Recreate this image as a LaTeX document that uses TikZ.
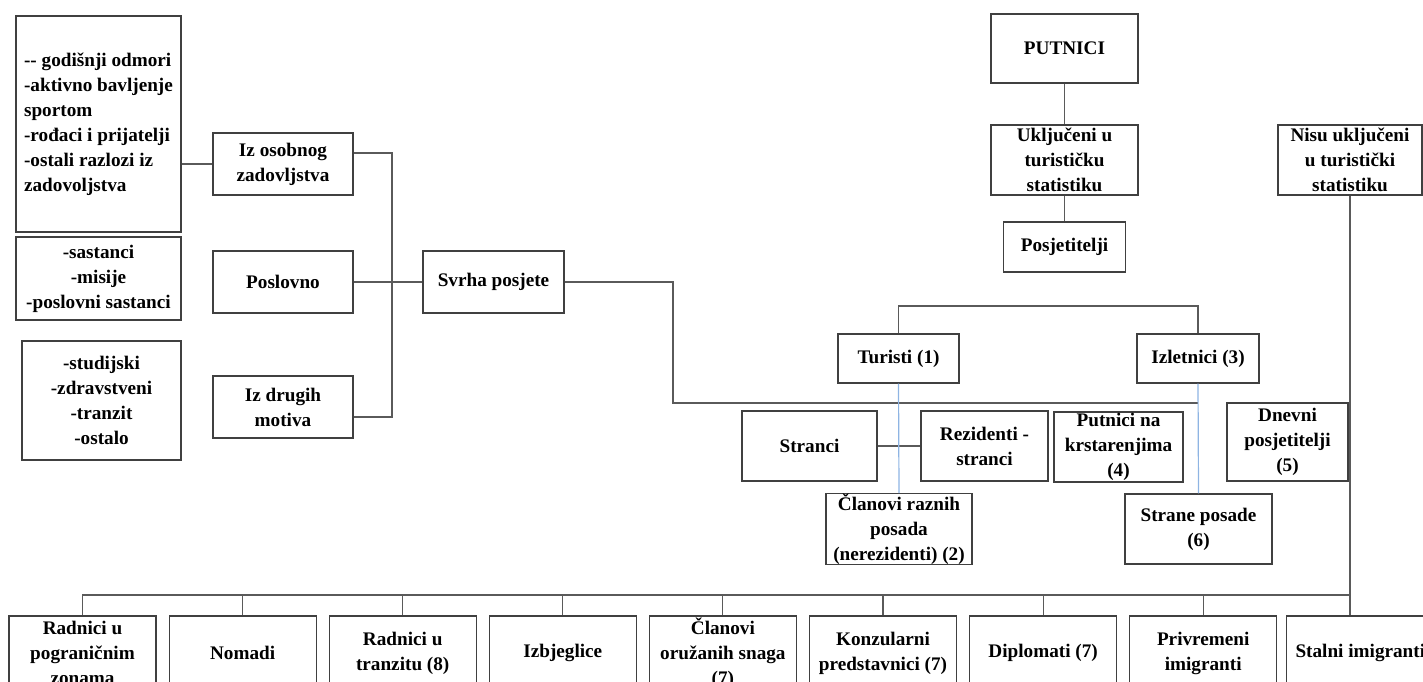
\documentclass[tikz,border=0pt]{standalone}
\usepackage{fontspec}
\setmainfont{Liberation Serif}
\usepackage{tikz}
\usetikzlibrary{positioning}
\definecolor{boxgray}{HTML}{404040}
\definecolor{linegray}{HTML}{5A5A5A}
\definecolor{crewblue}{HTML}{8EB4E3}
\tikzset{
  catbox/.style={
    draw=boxgray,
    fill=white,
    line width=1.1pt,
    inner sep=0pt,
    align=center,
    font=\fontsize{19.2}{25}\selectfont\bfseries
  },
  listbox/.style={
    catbox,
    align=left
  },
  rowbox/.style={
    catbox,
    minimum width=147pt,
    minimum height=74pt
  },
  link/.style={
    draw=linegray,
    line width=1.1pt
  },
  crewlink/.style={
    draw=crewblue,
    line width=1.2pt
  }
}

\begin{document}
\begin{tikzpicture}[x=1pt,y=-1pt,node distance=12pt]
\clip (0,0) rectangle (1423,682);
% purpose of the visit
\node[listbox, minimum width=165pt, minimum height=216pt] (leisurelist) at (98.5,124) {-{}- godišnji odmori\\-aktivno bavljenje\\sportom\\-rođaci i prijatelji\\-ostali razlozi iz\\zadovoljstva};
\node[catbox, minimum width=165pt, minimum height=83pt] (businesslist) at (98.5,278.5) {-sastanci\\-misije\\-poslovni sastanci};
\node[catbox, minimum width=159pt, minimum height=119pt] (otherlist) at (101.5,400.5) {-studijski\\-zdravstveni\\-tranzit\\-ostalo};
\node[catbox, minimum width=140pt, minimum height=62pt] (osobni) at (283,164) {Iz osobnog\\zadovljstva};
\node[catbox, minimum width=140pt, minimum height=62pt] (poslovno) at (283,282) {Poslovno};
\node[catbox, minimum width=140pt, minimum height=62pt] (drugi) at (283,407) {Iz drugih\\motiva};
\node[catbox, minimum width=141pt, minimum height=62pt] (svrha) at (493.5,282) {Svrha posjete};

% travellers
\node[catbox, minimum width=147pt, minimum height=69pt] (putnici) at (1064.5,48.5) {PUTNICI};
\node[catbox, minimum width=147pt, minimum height=70pt] (ukljuceni) at (1064.5,160) {Uključeni u\\turističku\\statistiku};
\node[catbox, minimum width=122pt, minimum height=50pt] (posjet) at (1064.5,247) {Posjetitelji};
\node[catbox, minimum width=144pt, minimum height=70pt] (nisu) at (1350,160) {Nisu uključeni\\u turistički\\statistiku};

% visitors
\node[catbox, minimum width=121pt, minimum height=49pt] (turisti) at (898.5,358.5) {Turisti (1)};
\node[catbox, minimum width=122pt, minimum height=49pt] (izlet) at (1198,358.5) {Izletnici (3)};
\node[catbox, minimum width=135pt, minimum height=70pt] (stranci) at (809.5,446) {Stranci};
\node[catbox, minimum width=127pt, minimum height=70pt] (rezidenti) at (984.5,446) {Rezidenti -\\stranci};
\node[catbox, minimum width=129pt, minimum height=70pt] (krstarenje) at (1118.5,447) {Putnici na\\krstarenjima\\(4)};
\node[catbox, minimum width=121pt, minimum height=78pt] (dnevni) at (1287.5,442) {Dnevni\\posjetitelji\\(5)};
\node[catbox, minimum width=146pt, minimum height=70pt] (clanovi) at (899,529) {Članovi raznih\\posada\\(nerezidenti) (2)};
\node[catbox, minimum width=147pt, minimum height=70pt] (strane) at (1198.5,529) {Strane posade\\(6)};

% not included
\node[rowbox] (pogranicni) at (82.5,653) {Radnici u\\pograničnim\\zonama};
\node[rowbox, right=of pogranicni] (nomadi) {Nomadi};
\node[rowbox, right=of nomadi] (tranzit) {Radnici u\\tranzitu (8)};
\node[rowbox, right=of tranzit] (izbjeglice) {Izbjeglice};
\node[rowbox, right=of izbjeglice] (vojska) {Članovi\\oružanih snaga\\(7)};
\node[rowbox, right=of vojska] (konzuli) {Konzularni\\predstavnici (7)};
\node[rowbox, right=of konzuli] (diplomati) {Diplomati (7)};
\node[rowbox, right=of diplomati] (privremeni) {Privremeni\\imigranti};
\node[rowbox, right=9pt of privremeni] (stalni) {Stalni imigranti};

\coordinate (bt) at (392,153);
\coordinate (bb) at (392,417);
\coordinate (turn) at (673,403);
\coordinate (split) at (1000,306);
\coordinate (bus) at (0,595);

\draw[link] (leisurelist.east |- osobni) -- (osobni.west);
\draw[link] (osobni.east |- bt) -- (bt) -- (bb) -- (drugi.east |- bb);
\draw[link] (poslovno.east) -- (svrha.west);
\draw[link] (svrha.east) -| (turn) -- (turn -| izlet.south);
\draw[link] (putnici) -- (ukljuceni);
\draw[link] (ukljuceni) -- (posjet);
\draw[link] (turisti.north) |- (split) -| (izlet.north);
\draw[link] (stranci) -- (rezidenti);
\draw[crewlink] (turisti.south) -- (clanovi.north);
\draw[crewlink] (izlet.south) -- (strane.north);
\draw[link] (nisu.south) -- (nisu.south |- stalni.north);
\draw[link] (pogranicni.north) |- (nisu.south |- bus);
\draw[link] (nomadi.north) -- (nomadi.north |- bus);
\draw[link] (tranzit.north) -- (tranzit.north |- bus);
\draw[link] (izbjeglice.north) -- (izbjeglice.north |- bus);
\draw[link] (vojska.north) -- (vojska.north |- bus);
\draw[link] (konzuli.north) -- (konzuli.north |- bus);
\draw[link] (diplomati.north) -- (diplomati.north |- bus);
\draw[link] (privremeni.north) -- (privremeni.north |- bus);
\end{tikzpicture}
\end{document}
